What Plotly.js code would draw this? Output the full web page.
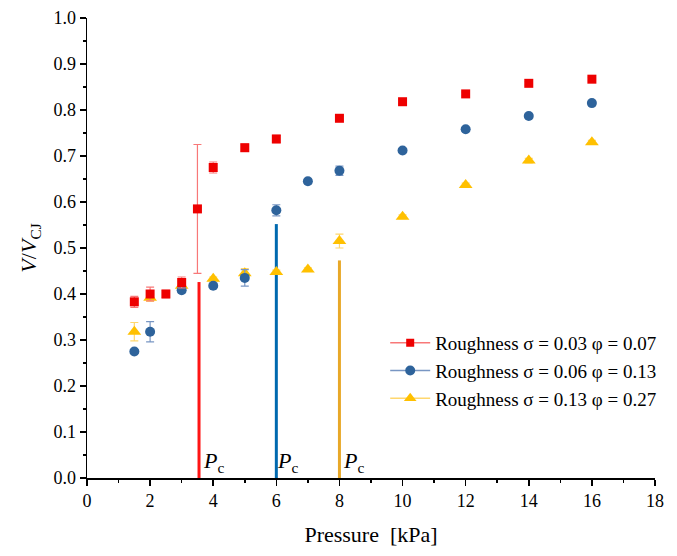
<!DOCTYPE html>
<html><head><meta charset="utf-8">
<script src="https://cdn.plot.ly/plotly-3.0.1.min.js"></script>
<style>html,body{margin:0;padding:0;background:#fff}</style>
</head><body><div id="chart" style="width:677px;height:556px"></div>
<script>
// Data
const redX   = [1.5, 2, 2.5, 3, 3.5, 4, 5, 6, 8, 10, 12, 14, 16];
const redY   = [0.383, 0.400, 0.400, 0.425, 0.585, 0.675, 0.718, 0.737, 0.782, 0.818, 0.835, 0.858, 0.867];
const redErr = [0.012, 0.015, 0.008, 0.012, 0.140, 0.012, 0.008, 0.008, 0.005, 0.005, 0.004, 0.004, 0.004];

const blueX   = [1.5, 2, 3, 4, 5, 6, 7, 8, 10, 12, 14, 16];
const blueY   = [0.275, 0.318, 0.408, 0.418, 0.435, 0.582, 0.645, 0.668, 0.712, 0.758, 0.787, 0.815];
const blueErr = [0.004, 0.022, 0.005, 0.004, 0.018, 0.012, 0.005, 0.010, 0.004, 0.004, 0.004, 0.004];

const yelX   = [1.5, 2, 3, 4, 5, 6, 7, 8, 10, 12, 14, 16];
const yelY   = [0.318, 0.392, 0.418, 0.433, 0.445, 0.448, 0.453, 0.515, 0.568, 0.637, 0.690, 0.730];
const yelErr = [0.020, 0.008, 0.010, 0.004, 0.010, 0.004, 0.004, 0.015, 0.004, 0.004, 0.005, 0.004];

const pcX   = [3.55, 6, 8];
const pcTop = [0.426, 0.552, 0.473];
const pcLabelX = [4.0, 6.35, 8.45];

const legendNames = ["Roughness σ = 0.03 φ = 0.07", "Roughness σ = 0.06 φ = 0.13", "Roughness σ = 0.13 φ = 0.27"];
const xTicks = [0, 2, 4, 6, 8, 10, 12, 14, 16, 18];
const yTicks = [0.0, 0.1, 0.2, 0.3, 0.4, 0.5, 0.6, 0.7, 0.8, 0.9, 1.0];

const cRed = "rgb(238,0,0)", cBlue = "rgb(46,99,155)", cYel = "rgb(255,192,0)";
const lRed = "rgb(248,120,120)", lBlue = "rgb(120,150,195)", lYel = "rgb(255,215,110)";
const pcCols = ["rgb(255,20,20)", "rgb(0,105,175)", "rgb(232,168,40)"];

const traces = [];
// Pc lines
pcX.forEach((x, i) => {
  traces.push({x: [x, x], y: [0, pcTop[i]], mode: "lines", line: {color: pcCols[i], width: 3}, showlegend: false, hoverinfo: "skip"});
});
function series(x, y, e, col, lcol, sym, size) {
  return {x: x, y: y, mode: "markers", showlegend: false,
    marker: {color: col, symbol: sym, size: size},
    error_y: {type: "data", array: e, visible: true, color: lcol, thickness: 1.2, width: 4}};
}
traces.push(series(yelX, yelY, yelErr, cYel, lYel, "triangle-up", 12));
traces.push(series(blueX, blueY, blueErr, cBlue, lBlue, "circle", 10));
traces.push(series(redX, redY, redErr, cRed, lRed, "square", 9));
// legend entries
const legSpec = [[cRed, lRed, "square", 8], [cBlue, lBlue, "circle", 10], [cYel, lYel, "triangle-up", 11]];
legSpec.forEach((s, i) => {
  traces.push({x: [null], y: [null], mode: "lines+markers", name: legendNames[i],
    line: {color: s[1], width: 1.5}, marker: {color: s[0], symbol: s[2], size: s[3]}});
});

const FAM = "'Liberation Serif', 'Times New Roman', serif";
const annotations = pcLabelX.map(x => ({x: x, y: 0.035, xref: "x", yref: "y", text: "<i>P</i><sub>c</sub>",
  showarrow: false, xanchor: "center", yanchor: "middle", font: {family: FAM, color: "#000", size: 22}}));

const layout = {
  width: 677, height: 556,
  margin: {l: 87, r: 22, t: 18, b: 78, autoexpand: false},
  paper_bgcolor: "#fff", plot_bgcolor: "#fff",
  font: {family: FAM, color: "#000", size: 18},
  showlegend: true,
  legend: {x: 0.525, y: 0.335, xanchor: "left", yanchor: "top", bgcolor: "rgba(0,0,0,0)",
    font: {family: FAM, color: "#000", size: 19}, itemwidth: 40, tracegroupgap: 0},
  xaxis: {range: [0, 18], tickvals: xTicks, ticktext: xTicks.map(String), showgrid: false, zeroline: false,
    showline: true, linecolor: "#000", linewidth: 1.5, ticks: "outside", ticklen: 6, tickwidth: 1.5, tickcolor: "#000",
    minor: {ticks: "outside", dtick: 1, ticklen: 3, tickwidth: 1.5, tickcolor: "#000", showgrid: false},
    tickfont: {family: FAM, color: "#000", size: 18}, automargin: false,
    title: {text: "Pressure  [kPa]", font: {family: FAM, color: "#000", size: 22}, standoff: 16}},
  yaxis: {range: [0, 1.0], tickvals: yTicks, ticktext: yTicks.map(v => v.toFixed(1)), showgrid: false, zeroline: false,
    showline: true, linecolor: "#000", linewidth: 1.5, ticks: "outside", ticklen: 6, tickwidth: 1.5, tickcolor: "#000",
    minor: {ticks: "outside", dtick: 0.05, ticklen: 3, tickwidth: 1.5, tickcolor: "#000", showgrid: false},
    tickfont: {family: FAM, color: "#000", size: 18}, automargin: false,
    title: {text: "<i>V</i>/<i>V</i><sub>CJ</sub>", font: {family: FAM, color: "#000", size: 22}, standoff: 10}},
  annotations: annotations
};
Plotly.newPlot("chart", traces, layout, {displayModeBar: false, staticPlot: true});
</script></body></html>
